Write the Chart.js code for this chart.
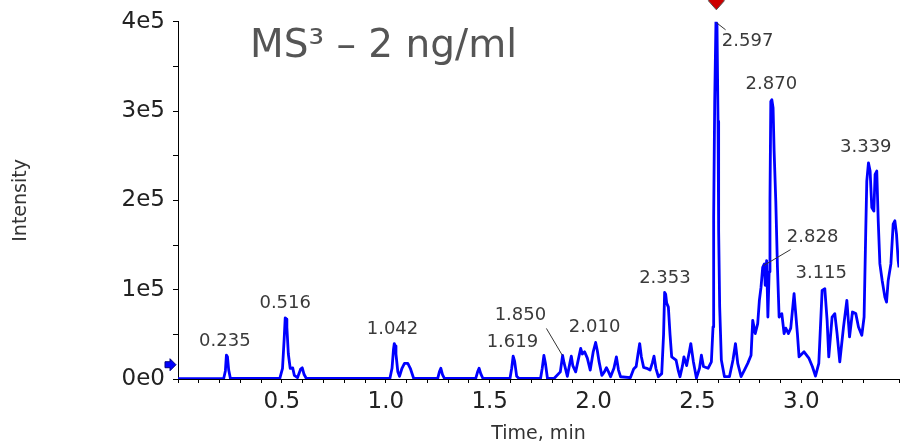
<!DOCTYPE html>
<html>
<head>
<meta charset="utf-8">
<script src="https://cdn.jsdelivr.net/npm/chart.js@4.4.1/dist/chart.umd.min.js"></script>
<style>
    html, body { margin: 0; padding: 0; background: #fff; }
    #chromChart { display: block; }
</style>
</head>
<body>
<canvas id="chromChart" width="904" height="445"></canvas>
<script>
// Retention times (min) of the trace
const times = [
    0.000, 0.220, 0.228, 0.233, 0.238, 0.244, 0.252,
    0.490, 0.503, 0.511, 0.516, 0.520, 0.524, 0.531, 0.540, 0.552, 0.560, 0.575, 0.590, 0.598, 0.607, 0.617,
    1.020, 1.030, 1.037, 1.041, 1.045, 1.049, 1.058, 1.066, 1.078, 1.090, 1.106, 1.118, 1.134,
    1.250, 1.258, 1.265, 1.273, 1.282,
    1.433, 1.442, 1.449, 1.457, 1.467,
    1.598, 1.606, 1.613, 1.620, 1.630, 1.640,
    1.745, 1.753, 1.761, 1.768, 1.778,
    1.811, 1.840, 1.851, 1.858, 1.874, 1.886, 1.893, 1.900, 1.914, 1.925, 1.938, 1.946, 1.957, 1.970, 1.984,
    1.998, 2.010, 2.018, 2.026, 2.040, 2.052, 2.062, 2.072, 2.082, 2.098, 2.110, 2.120, 2.130,
    2.177, 2.193, 2.205, 2.214, 2.222, 2.230, 2.241, 2.256, 2.272, 2.283, 2.291, 2.300, 2.312,
    2.328, 2.337, 2.342, 2.347, 2.352, 2.360, 2.368, 2.376, 2.397, 2.408, 2.416, 2.428, 2.435, 2.448,
    2.462, 2.468, 2.480, 2.495, 2.510, 2.519, 2.529, 2.535, 2.551, 2.567,
    2.575, 2.578, 2.583, 2.589, 2.594, 2.599, 2.602, 2.607, 2.615, 2.630, 2.654, 2.671, 2.683, 2.694,
    2.710, 2.726, 2.742, 2.758, 2.766, 2.778, 2.790, 2.798, 2.806, 2.814, 2.822, 2.826, 2.833,
    2.839, 2.845, 2.849, 2.853, 2.858, 2.864, 2.869, 2.877, 2.885, 2.893, 2.906, 2.917, 2.925,
    2.938, 2.949, 2.965, 2.981, 2.989, 3.013, 3.037, 3.053, 3.068, 3.084, 3.100, 3.113, 3.124,
    3.132, 3.148, 3.161, 3.172, 3.185, 3.203, 3.219, 3.232, 3.246, 3.262, 3.275, 3.291, 3.302,
    3.310, 3.315, 3.323, 3.331, 3.339, 3.349, 3.355, 3.363, 3.370, 3.378, 3.389, 3.402, 3.410,
    3.418, 3.431, 3.442, 3.450, 3.458, 3.466, 3.470
];

// Intensity (counts) at each time
const intensity = [
    500, 500, 9000, 26700, 25000, 10000, 800,
    800, 12000, 45000, 68500, 67000, 58000, 28000, 12000, 12500, 4000, 1500, 11000, 12500, 5000, 800,
    800, 12000, 33000, 39700, 37000, 28000, 8000, 3000, 12000, 17500, 17500, 12000, 800,
    800, 8000, 12000, 5000, 800,
    800, 8000, 12000, 6000, 800,
    800, 12000, 25600, 20000, 3000, 800,
    800, 12000, 26400, 18000, 800,
    800, 8000, 26400, 18000, 3000, 18000, 25600, 15000, 8000, 20000, 34200, 28000, 30400, 23400, 10000,
    30000, 40900, 32000, 20000, 4000, 8000, 12600, 8000, 2500, 12000, 24800, 10000, 2500,
    1500, 11100, 14000, 28000, 39700, 25000, 13000, 12000, 10000, 18000, 25600, 12000, 2500,
    6000, 50000, 97000, 95000, 85000, 80500, 50000, 24800, 21200, 9000, 2500, 15000, 24800, 15000,
    32000, 39700, 20000, 1000, 12000, 26700, 14000, 13500, 12000, 19300,
    58300, 180800, 310800, 400000, 398000, 288600, 166000, 80500, 21200, 2600, 2600, 21200, 39700, 17500,
    2600, 10000, 17500, 26700, 65700, 50900, 62000, 88000, 102800, 125100, 128900, 105000, 132600,
    69400, 120000, 199400, 310800, 312700, 303400, 255200, 199400, 125100, 69400, 73200, 50900, 57000,
    50900, 57000, 95500, 50900, 24800, 30400, 23000, 14000, 3300, 17500, 99200, 101000, 65700,
    24800, 69400, 73200, 50900, 19300, 58300, 88000, 47100, 75000, 73200, 58300, 49000, 69400,
    166000, 221700, 242100, 232900, 192000, 188000, 229200, 232900, 177200, 128900, 110300, 91700, 86100,
    110300, 128900, 173500, 177200, 162300, 132600, 125000
];

// Labelled peaks
const peakTimes = [0.235, 0.516, 1.042, 1.619, 1.850, 2.010, 2.353, 2.597, 2.828, 2.870, 3.115, 3.339];
const peakLabels = ['0.235', '0.516', '1.042', '1.619', '1.850', '2.010', '2.353', '2.597', '2.828', '2.870', '3.115', '3.339'];

// Axis ticks
const xTickLabels = [0.5, 1.0, 1.5, 2.0, 2.5, 3.0];
const yTickLabels = ['0e0', '1e5', '2e5', '3e5', '4e5'];

const titleText = 'MS\u00B3 \u2013 2 ng/ml';
const FONT = "'DejaVu Sans', Verdana, sans-serif";

// label offsets from the apex: [dx, dy, leader?]
const labelOffsets = [
    [-2, -14], [0, -15], [-2, -14], [-2, -14],
    [-42, -40, [-16, -27, 0, 0]],
    [-1, -15], [-2, -14],
    [30, 20, [-1, 1, 8, 8]],
    [47, -23, [25, -11, -2, 5]],
    [-3, -15], [-4, -15], [-6, -15]
];

function peakApex(t) {
    let best = 0;
    times.forEach((tt, i) => {
        if (Math.abs(tt - t) <= 0.02 && intensity[i] > best) best = intensity[i];
    });
    return best;
}

const annotationsPlugin = {
    id: 'annotations',
    afterDatasetsDraw(chart) {
        const { ctx, chartArea, scales } = chart;
        const xs = scales.x, ys = scales.y;
        ctx.save();

        // title
        ctx.fillStyle = '#555';
        ctx.font = '39px ' + FONT;
        ctx.textAlign = 'left';
        ctx.textBaseline = 'alphabetic';
        ctx.fillText(titleText, chartArea.left + 72, chartArea.top + 35);

        // peak labels
        ctx.font = '18px ' + FONT;
        ctx.fillStyle = '#3a3a3a';
        ctx.textAlign = 'center';
        ctx.textBaseline = 'middle';
        ctx.strokeStyle = '#333';
        ctx.lineWidth = 1;
        peakTimes.forEach((t, i) => {
            const ax = xs.getPixelForValue(t);
            const ay = ys.getPixelForValue(peakApex(t));
            const off = labelOffsets[i];
            ctx.fillText(peakLabels[i], ax + off[0], ay + off[1]);
            if (off[2]) {
                const l = off[2];
                ctx.beginPath();
                ctx.moveTo(ax + l[0], ay + l[1]);
                ctx.lineTo(ax + l[2], ay + l[3]);
                ctx.stroke();
            }
        });

        // red marker above the base peak
        const mx = xs.getPixelForValue(2.591);
        const my = chartArea.top - 21;
        ctx.beginPath();
        ctx.moveTo(mx, my - 9);
        ctx.lineTo(mx + 8, my);
        ctx.lineTo(mx, my + 9);
        ctx.lineTo(mx - 8, my);
        ctx.closePath();
        ctx.fillStyle = '#cc0000';
        ctx.fill();
        ctx.strokeStyle = '#555';
        ctx.stroke();

        // blue arrow on the intensity axis
        const ay2 = ys.getPixelForValue(16000);
        const ax2 = chartArea.left - 2;
        ctx.beginPath();
        ctx.moveTo(ax2, ay2);
        ctx.lineTo(ax2 - 6, ay2 - 6);
        ctx.lineTo(ax2 - 6, ay2 - 3);
        ctx.lineTo(ax2 - 11, ay2 - 3);
        ctx.lineTo(ax2 - 11, ay2 + 3);
        ctx.lineTo(ax2 - 6, ay2 + 3);
        ctx.lineTo(ax2 - 6, ay2 + 6);
        ctx.closePath();
        ctx.fillStyle = '#0000ff';
        ctx.fill();
        ctx.strokeStyle = '#000080';
        ctx.stroke();

        ctx.restore();
    }
};

new Chart(document.getElementById('chromChart'), {
    type: 'line',
    data: {
        datasets: [{
            data: times.map((t, i) => ({ x: t, y: intensity[i] })),
            borderColor: '#0000ff',
            borderWidth: 2.8,
            borderJoinStyle: 'round',
            pointRadius: 0,
            tension: 0,
            fill: false
        }]
    },
    options: {
        responsive: false,
        animation: false,
        layout: { padding: { top: 20, right: 0, bottom: 0, left: 0 } },
        plugins: {
            legend: { display: false },
            tooltip: { enabled: false }
        },
        scales: {
            x: {
                type: 'linear',
                min: 0,
                max: 3.47,
                afterFit: scale => { scale.height = 66; },
                border: { color: '#000', width: 1 },
                grid: { drawOnChartArea: false, drawTicks: true, tickLength: 4, tickColor: '#000' },
                ticks: {
                    stepSize: 0.1,
                    autoSkip: false,
                    maxRotation: 0,
                    padding: 5,
                    color: '#222',
                    font: { family: FONT, size: 23 },
                    callback: function (value) {
                        const match = xTickLabels.find(v => Math.abs(v - value) < 1e-6);
                        return match !== undefined ? match.toFixed(1) : '';
                    }
                },
                title: {
                    display: true,
                    text: 'Time, min',
                    color: '#333',
                    font: { family: FONT, size: 19 },
                    padding: { top: 1, bottom: 0 }
                }
            },
            y: {
                min: 0,
                max: 400000,
                afterFit: scale => { scale.width = 178; },
                border: { color: '#000', width: 1 },
                grid: { drawOnChartArea: false, drawTicks: true, tickLength: 5, tickColor: '#000' },
                ticks: {
                    stepSize: 50000,
                    autoSkip: false,
                    padding: 8,
                    color: '#222',
                    font: { family: FONT, size: 23 },
                    callback: function (value) {
                        return value % 100000 === 0 ? yTickLabels[value / 100000] : '';
                    }
                },
                title: {
                    display: true,
                    text: 'Intensity',
                    color: '#333',
                    font: { family: FONT, size: 19 },
                    padding: { top: 10, bottom: 4 }
                }
            }
        }
    },
    plugins: [annotationsPlugin]
});
</script>
</body>
</html>
